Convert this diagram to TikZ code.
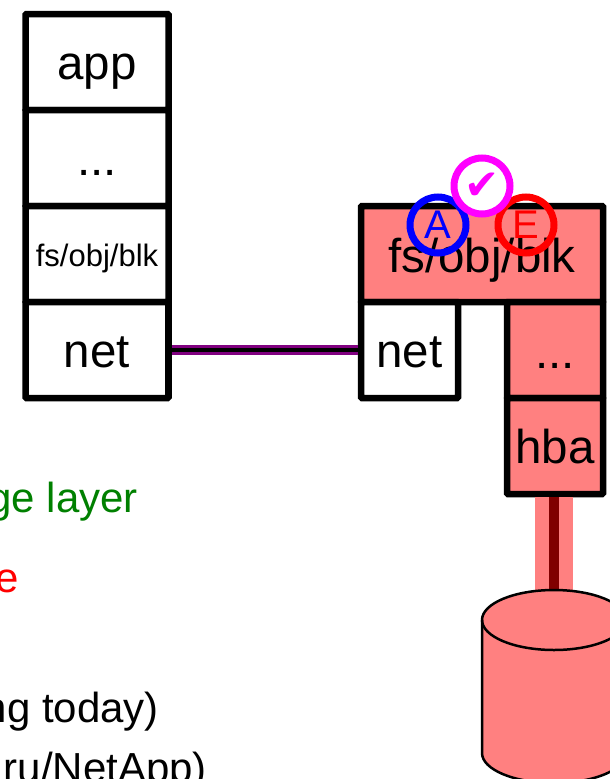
\documentclass[tikz,border=0pt]{standalone}
\usepackage{fontspec}
\setmainfont{Liberation Sans}
\newfontfamily\symfont{DejaVu Sans}
\definecolor{pinkfill}{HTML}{FF8080}
\definecolor{darkgreen}{HTML}{008000}
\definecolor{maroon}{HTML}{800000}
\definecolor{purplewire}{HTML}{800080}
\definecolor{ringmagenta}{HTML}{FF00FF}
\newcommand{\fs}[1]{\fontsize{#1pt}{#1pt}\selectfont}
\tikzset{
  layerbox/.style={draw=black,line width=6.5pt,rounded corners=1pt,inner sep=0pt,outer sep=0pt,
    minimum height=96pt,text height=34pt,text depth=0pt,font=\fs{47.5}},
  leftbox/.style={layerbox,minimum width=143pt,fill=white},
  ring/.style={circle,line width=7pt,minimum size=56pt,inner sep=0pt,outer sep=0pt},
  clipped/.style={inner sep=0pt,outer sep=0pt,anchor=base east,font=\fs{42}},
}
\begin{document}
\begin{tikzpicture}[x=1pt,y=-1pt]
\useasboundingbox (0,0) rectangle (610,779);
% left stack
\node[leftbox] (app) at (97,62) {app};
\node[leftbox] (dots) at (97,158) {...};
\node[leftbox,font=\fs{31},text height=24pt] (fsl) at (97,254) {fs/obj/blk};
\node[leftbox] (netl) at (97,350) {net};
% right stack
\node[layerbox,fill=pinkfill,minimum width=242pt,text height=36pt] (fsr) at (482,254) {fs/obj/blk};
\node[layerbox,fill=white,minimum width=97pt] (netr) at (409.5,350) {net};
\node[layerbox,fill=pinkfill,minimum width=96pt,text height=36pt] (dotsr) at (555,350) {...};
\node[layerbox,fill=pinkfill,minimum width=96pt] (hba) at (555,446) {hba};
% wires
\coordinate (disktop) at (554,600);
\draw[pinkfill,line width=38pt] (hba.south -| disktop) -- (disktop);
\draw[maroon,line width=10pt] (hba.south -| disktop) -- (disktop);
\draw[purplewire,line width=10pt] (netl.east) -- (netr.west);
\draw[black,line width=4pt] (netl.east) -- (netr.west);
% redraw box borders over the wires
\draw[line width=6.5pt] (hba.south west) -- (hba.south east);
\draw[line width=6.5pt] (netl.north east) -- (netl.south east);
\draw[line width=6.5pt] (netr.north west) -- (netr.south west);
% disk
\draw[fill=pinkfill,line width=2.5pt] (482,620) -- (482,753)
  arc[start angle=180,end angle=360,x radius=72pt,y radius=30pt]
  -- (626,620) arc[start angle=0,end angle=180,x radius=72pt,y radius=30pt] -- cycle;
\draw[line width=2.5pt] (482,620) arc[start angle=180,end angle=360,x radius=72pt,y radius=30pt];
% rings
\node[ring,draw=blue,text=blue,font=\fs{40}] (ringa) at (438,225) {A};
\node[ring,draw=red,text=red,font=\fs{40}] (ringe) at (526,225) {E};
\node[ring,draw=ringmagenta,fill=white,text=ringmagenta,font=\symfont\fs{42}] (ringc) at (482,186) {✔};
% clipped text
\node[clipped,text=darkgreen] (t1) at (138,512) {ge layer};
\node[clipped,text=red] (t2) at (19,592) {e};
\node[clipped] (t3) at (159,722) {ng today)};
\node[clipped] (t4) at (207,782) {ru/NetApp)};
\end{tikzpicture}
\end{document}
